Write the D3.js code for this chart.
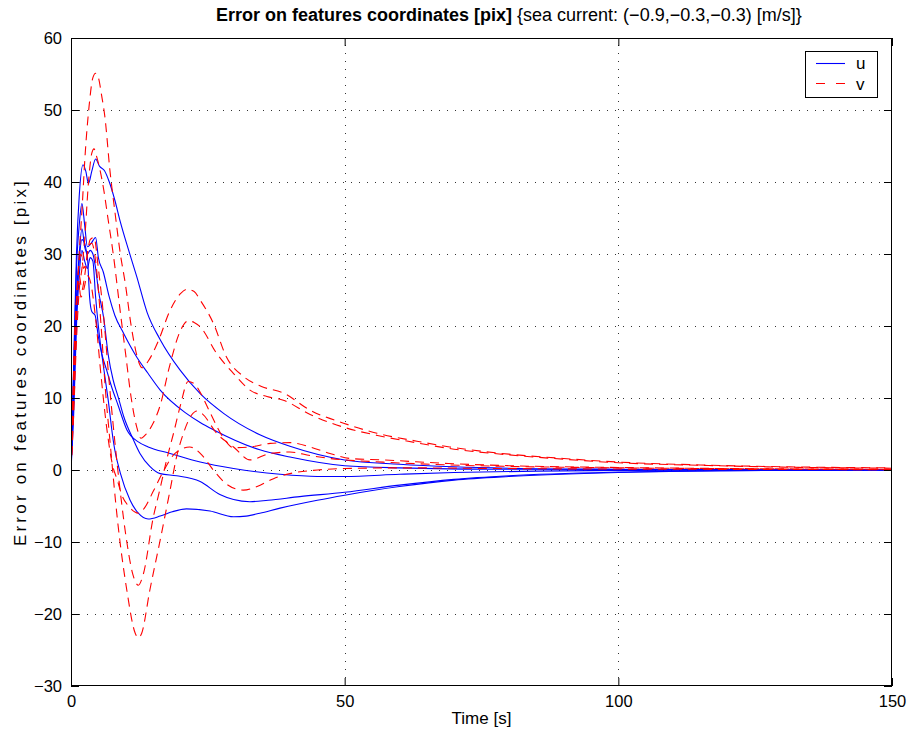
<!DOCTYPE html>
<html><head><meta charset="utf-8">
<script src="https://cdn.jsdelivr.net/npm/d3@7"></script>
<style>body{margin:0;background:#fff} text{font-family:"Liberation Sans",Arial,Helvetica,sans-serif;fill:#000}</style>
</head><body><svg id="c" width="914" height="736"></svg>
<script>
const xTicks=[0,50,100,150];
const yTicks=[-30,-20,-10,0,10,20,30,40,50,60];
const titleBold="Error on features coordinates [pix]";
const titleRest="{sea current: (\u22120.9,\u22120.3,\u22120.3) [m/s]}";
const xLabel="Time [s]";
const yLabel="Error on features coordinates [pix]";
const legendNames=["u","v"];

const u1=[[0,0],[0.5,15],[1,30],[1.5,38],[2.2,42.4],[2.7,41.5],[3.2,39.8],[3.8,41.5],[4.5,43.2],[5.2,42.2],[6.1,41.6],[7,40],[8,37.5],[9,34.5],[10.5,30.6],[12,26.9],[13.9,21.9],[16.3,18.1],[19.9,13.9],[23.6,10.6],[28,7.8],[34.5,4.9],[40,3.3],[50,1.4],[60,0.8],[70,0.45],[80,0.25],[100,0.1],[120,0.05],[150,0]];
const u2=[[0,0],[0.5,14],[1,28],[1.5,34],[2,37],[2.5,34],[3,31],[3.7,31.5],[4.5,32.3],[5,29.5],[5.9,27.5],[7,24],[8,21.5],[9.6,19],[12,15.7],[14,13.5],[16.3,11.1],[21,7.9],[23.6,6.6],[26,5.6],[34.5,2.8],[40,1.8],[50,0.6],[60,0.3],[80,0.1],[150,0]];
const u3=[[0,0],[0.5,12],[1,24],[1.5,30],[2,33.5],[2.5,31],[3,29.5],[3.4,24],[3.8,22],[4.4,21.5],[5,18.5],[5.6,16.2],[6.5,13.9],[7.4,11.6],[8.6,9],[10.2,5.6],[12.3,3.9],[14.1,3.2],[18.1,2.3],[23.6,1.1],[29.7,0.2],[38.2,-0.6],[45,-0.9],[50,-0.9],[60,-0.6],[70,-0.35],[85,-0.15],[100,-0.05],[150,0]];
const u4=[[0,0],[0.5,10],[1,22],[1.5,29],[2,32],[2.5,31.5],[3,30],[3.5,30.5],[4,30],[4.5,28],[5,25],[6,21],[6.8,16],[7.7,12.5],[8.6,10.2],[9.6,7.5],[11.4,4.2],[12.6,2.3],[14.4,0.5],[16.3,-0.5],[19.3,-0.8],[23.6,-1.6],[27.2,-3.4],[29.7,-4.1],[32.7,-4.4],[36,-4.2],[41.8,-3.7],[50,-3.1],[60,-2.1],[70,-1.3],[80,-0.8],[100,-0.3],[120,-0.1],[150,0]];
const u5=[[0,0],[0.5,8],[1,20],[1.5,27],[2,30.5],[2.5,29],[3,28],[3.5,29.5],[4,29],[4.5,24],[5,20],[6,14],[6.8,9.7],[7.7,4.2],[8,2.8],[9,-0.4],[10.8,-4.2],[12.3,-6],[14.1,-6.8],[16.3,-6.4],[18.5,-5.8],[21.1,-5.4],[25.4,-5.7],[29.7,-6.5],[32,-6.4],[34.5,-6],[38.2,-5.3],[45,-4.2],[50,-3.5],[60,-2.3],[70,-1.4],[80,-0.9],[100,-0.35],[120,-0.1],[150,0]];

const v1=[[0,0],[0.5,10],[1,22],[1.5,30],[2,36],[2.6,44],[3.3,50.5],[4,54.5],[4.5,55.1],[5,54.5],[5.6,52],[6.2,49],[7.1,41.7],[8,36],[9,30.1],[9.9,26],[11,20],[12,16],[13,14.2],[14,15],[16,18],[18,22],[20,24.5],[21.2,25.1],[22.5,24.8],[23.6,23.6],[26,20.4],[28.4,15.7],[31.5,13],[34.8,11.6],[38.8,10.7],[43.7,8.3],[49.8,6.5],[55.9,5.1],[63.2,4],[69.2,3.2],[80,2.2],[90,1.6],[100,1.1],[115,0.7],[130,0.45],[150,0.3]];
const v2=[[0,0],[0.5,8],[1,18],[1.5,25],[2,28],[2.5,32],[3.2,40],[3.8,44],[4.2,44.6],[4.7,43.5],[5.9,39.3],[6.8,34.7],[7.7,30.1],[9,22],[10,16],[11,10],[12,6],[12.8,4.4],[13.5,4.8],[15,6.5],[16.3,9],[18,14.4],[19.9,19.2],[21.4,20.7],[22.5,20.5],[23.6,19.9],[26.6,16.2],[29.7,13.4],[32.7,11.1],[35.8,10.2],[38.8,9.7],[43.7,7.7],[50,5.9],[56,4.8],[63,3.8],[69,3.0],[80,2.1],[90,1.5],[100,1.0],[115,0.65],[130,0.4],[150,0.25]];
const v3=[[0,0],[0.4,10],[0.8,20],[1.3,27],[1.8,30],[2.3,28],[2.8,29],[3.5,32],[4.2,32.3],[5,28],[6,21],[7,12],[8,4],[9,-3],[10.2,-10],[11.3,-14.5],[12.3,-16],[13.2,-14.5],[15,-6.7],[16.3,-2.5],[17.5,1.5],[18.7,5],[20,9],[21.4,12.3],[22.5,12],[23.6,10.8],[25.4,8],[27.9,4.4],[29.7,3.1],[32.7,3.2],[36.4,3.7],[40,3.8],[43.7,3.2],[47.3,2.3],[51,1.6],[57,1.4],[69,0.9],[80,0.6],[100,0.35],[150,0.1]];
const v4=[[0,0],[0.3,9],[0.7,19],[1.1,25],[1.5,27],[2,25],[2.5,27],[3.2,31],[3.8,31.5],[4.5,29],[5.5,20],[6.3,11],[7.1,4.2],[8.5,-7],[10.2,-16.7],[11.7,-22.6],[12.3,-23.3],[12.9,-22.7],[14.4,-16.7],[16.3,-9.7],[18.1,-2.8],[19.3,1.85],[20.5,5],[22,7.6],[23,8.2],[24,7.8],[26.6,5.1],[29.7,3.2],[32.7,1.4],[36.4,2.3],[40,2.5],[43.7,2],[47.3,1.6],[57,1.1],[69,0.7],[80,0.5],[100,0.3],[150,0.1]];
const v5=[[0,0],[0.3,7],[0.6,16],[1,23],[1.4,26],[1.8,24],[2.3,25],[3,27],[3.6,26],[4.5,21],[5.5,13],[6.5,6],[7.5,1],[8.5,-1.5],[9.3,-3.5],[10.5,-5],[12.3,-6],[13.5,-5.2],[15,-3],[17,0],[19,2.3],[21.7,3.2],[24,2],[26,0],[28.5,-2],[31.5,-2.8],[34,-2.3],[37,-1.2],[40,-0.5],[45,0],[50,0.2],[60,0.3],[80,0.2],[150,0.05]];

const uSeries=[u1,u2,u3,u4,u5];
const vSeries=[v1,v2,v3,v4,v5];

const L=71,R=892,T=38,B=686;
const svg=d3.select("#c");
const x=d3.scaleLinear().domain([0,150]).range([L,R]);
const y=d3.scaleLinear().domain([-30,60]).range([B,T]);
const fmt=d=>d<0?"\u2212"+Math.abs(d):String(d);

svg.append("rect").attr("x",0).attr("y",0).attr("width",914).attr("height",736).attr("fill","#fff");

// grid
const grid=svg.append("g").attr("stroke","#333").attr("stroke-width",1).attr("stroke-dasharray","1,7");
grid.selectAll(".gx").data(xTicks.filter(d=>d>0&&d<150)).join("line")
  .attr("x1",d=>Math.round(x(d))+0.5).attr("x2",d=>Math.round(x(d))+0.5).attr("y1",B).attr("y2",T);
grid.selectAll(".gy").data(yTicks.filter(d=>d>-30&&d<60)).join("line")
  .attr("y1",d=>Math.round(y(d))+0.5).attr("y2",d=>Math.round(y(d))+0.5).attr("x1",L).attr("x2",R);

svg.append("clipPath").attr("id","clip").append("rect").attr("x",L).attr("y",T).attr("width",R-L).attr("height",B-T);
const line=d3.line().x(d=>x(d[0])).y(d=>y(d[1])).curve(d3.curveMonotoneX);
const plot=svg.append("g").attr("clip-path","url(#clip)");
plot.selectAll(".u").data(uSeries).join("path").attr("d",line).attr("fill","none").attr("stroke","#0000ff").attr("stroke-width",1.1);
plot.selectAll(".v").data(vSeries).join("path").attr("d",line).attr("fill","none").attr("stroke","#ff0000").attr("stroke-width",1.1).attr("stroke-dasharray","9,6");

// axes with inward ticks
const axB=svg.append("g").attr("transform",`translate(0,${B})`).call(d3.axisBottom(x).tickValues(xTicks).tickSizeInner(-8).tickSizeOuter(0).tickFormat(fmt).tickPadding(9));
const axT=svg.append("g").attr("transform",`translate(0,${T})`).call(d3.axisTop(x).tickValues(xTicks).tickSizeInner(-8).tickSizeOuter(0).tickFormat(""));
const axL=svg.append("g").attr("transform",`translate(${L},0)`).call(d3.axisLeft(y).tickValues(yTicks).tickSizeInner(-8).tickSizeOuter(0).tickFormat(fmt).tickPadding(9));
const axR=svg.append("g").attr("transform",`translate(${R},0)`).call(d3.axisRight(y).tickValues(yTicks).tickSizeInner(-8).tickSizeOuter(0).tickFormat(""));
[axB,axT,axL,axR].forEach(a=>{a.select(".domain").remove();a.selectAll("line").attr("stroke","#000");a.selectAll("text").attr("font-size",16.5).attr("font-family","Liberation Sans, Arial, sans-serif").attr("fill","#000");});
svg.append("rect").attr("x",L+0.5).attr("y",T+0.5).attr("width",R-L-1).attr("height",B-T-1).attr("fill","none").attr("stroke","#000");

// labels
const t=svg.append("text").attr("x",216).attr("y",21).attr("font-size",18);
t.append("tspan").attr("font-weight","bold").text(titleBold);
t.append("tspan").text(" "+titleRest);
svg.append("text").attr("x",(L+R)/2).attr("y",724).attr("text-anchor","middle").attr("font-size",17).text(xLabel);
svg.append("text").attr("transform",`translate(26,${(T+B)/2}) rotate(-90)`).attr("text-anchor","middle").attr("font-size",17).attr("letter-spacing",3.2).text(yLabel);

// legend
const lg=svg.append("g");
lg.append("rect").attr("x",805.5).attr("y",51.5).attr("width",72).attr("height",46).attr("fill","#fff").attr("stroke","#000");
lg.append("line").attr("x1",816).attr("x2",845).attr("y1",63.5).attr("y2",63.5).attr("stroke","#0000ff").attr("stroke-width",1.1);
lg.append("line").attr("x1",816).attr("x2",845).attr("y1",83.5).attr("y2",83.5).attr("stroke","#ff0000").attr("stroke-width",1.1).attr("stroke-dasharray","9,11");
lg.append("text").attr("x",856).attr("y",69).attr("font-size",17).text(legendNames[0]);
lg.append("text").attr("x",856).attr("y",90).attr("font-size",17).text(legendNames[1]);
</script></body></html>
